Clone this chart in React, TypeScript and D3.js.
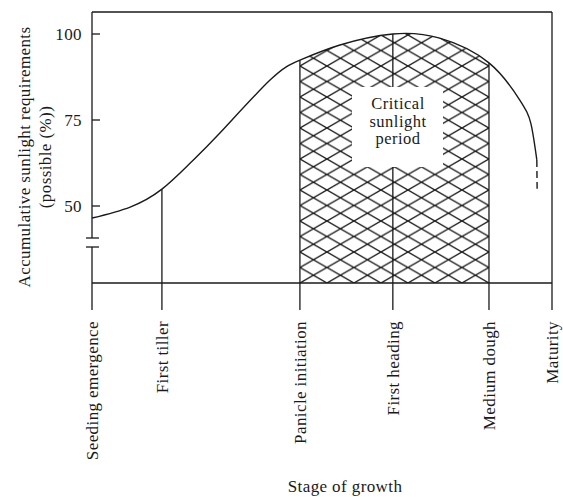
import React from 'react'
import * as d3 from 'd3'

// growth stages along the x axis (position in % of season)
const stages = ['Seeding emergence', 'First tiller', 'Panicle initiation', 'First heading', 'Medium dough', 'Maturity']
const stagePos = [0, 15.2, 45.2, 65.4, 86.3, 100]

// accumulative sunlight requirement curve
const curveX = [0, 8.3, 15.2, 21.3, 27.8, 38.7, 45.2, 53.9, 65.4, 75.6, 86.3, 93, 95.4, 96.7]
const curveY = [46.5, 49.7, 54.9, 62.4, 71.2, 86.6, 92.4, 96.8, 100, 98.8, 91.6, 80.8, 74, 63.4]
const tailY = [63.4, 55]

const yTicks = [50, 75, 100]

const W = 563
const H = 497
const left = 92
const right = 552
const top = 12
const baseY = 283
const tickBottom = 310
const font = '"Liberation Serif", "DejaVu Serif", serif'
const ink = '#1a1a1a'

export default function App() {
  const x = d3.scaleLinear().domain([0, 100]).range([left, right])
  const y = d3.scaleLinear().domain([50, 100]).range([206, 34])

  const pts: [number, number][] = curveX.map((d, i) => [d, curveY[i]])
  const curve = d3.curveNatural
  const line = d3
    .line<[number, number]>()
    .x((d) => x(d[0]))
    .y((d) => y(d[1]))
    .curve(curve)
  const area = d3
    .area<[number, number]>()
    .x((d) => x(d[0]))
    .y0(baseY)
    .y1((d) => y(d[1]))
    .curve(curve)

  // curve value at a stage, for where the stage verticals start
  const valueAt = (v: number) => {
    const i = curveX.indexOf(v)
    return i >= 0 ? curveY[i] : 100
  }

  const xPan = x(stagePos[2])
  const xDough = x(stagePos[4])
  const hole = { x0: 352, x1: 443, y0: 87, y1: 167 }
  const lab = { fontFamily: font, fill: ink, letterSpacing: 0.4 }

  return (
    <svg width={W} height={H} style={{ position: 'absolute', left: 0, top: 0, background: '#fff' }}>
      <defs>
        <pattern id="hatch" patternUnits="userSpaceOnUse" width={27} height={15.5} x={xPan} y={baseY}>
          <path d="M0,0L27,15.5M0,15.5L27,0" stroke={ink} strokeWidth={1.4} fill="none" />
        </pattern>
        <clipPath id="crit">
          <rect x={xPan} y={0} width={xDough - xPan} height={baseY} />
        </clipPath>
      </defs>

      {/* hatched critical period */}
      <path d={area(pts) ?? ''} fill="url(#hatch)" clipPath="url(#crit)" />
      <rect x={hole.x0} y={hole.y0} width={hole.x1 - hole.x0} height={hole.y1 - hole.y0} fill="#fff" />

      {/* frame */}
      <g stroke={ink} strokeWidth={1.3} fill="none">
        <line x1={left} x2={right} y1={top} y2={top} />
        <line x1={right} x2={right} y1={top} y2={tickBottom} />
        <line x1={left} x2={left} y1={top} y2={238} />
        <line x1={left} x2={left} y1={247} y2={tickBottom} />
        <line x1={86} x2={99} y1={238} y2={238} />
        <line x1={86} x2={99} y1={247} y2={247} />
        <line x1={left} x2={right} y1={baseY} y2={baseY} />
      </g>

      {/* y ticks */}
      {yTicks.map((t) => (
        <g key={t}>
          <line x1={left} x2={left + 8} y1={y(t)} y2={y(t)} stroke={ink} strokeWidth={1.3} />
          <text x={82} y={y(t)} dy="0.35em" textAnchor="end" fontSize={17} {...lab}>
            {t}
          </text>
        </g>
      ))}

      {/* stage verticals and labels */}
      {stages.map((s, i) => {
        const px = x(stagePos[i])
        const y1 = y(valueAt(stagePos[i]))
        return (
          <g key={s}>
            {i === 3 ? (
              <>
                <line x1={px} x2={px} y1={y1} y2={hole.y0} stroke={ink} strokeWidth={1.3} />
                <line x1={px} x2={px} y1={hole.y1} y2={tickBottom} stroke={ink} strokeWidth={1.3} />
              </>
            ) : (
              i !== 0 && i !== 5 && <line x1={px} x2={px} y1={y1} y2={tickBottom} stroke={ink} strokeWidth={1.3} />
            )}
            <text transform={`translate(${px + 6},${321}) rotate(-90)`} textAnchor="end" fontSize={17} {...lab}>
              {s}
            </text>
          </g>
        )
      })}

      {/* curve */}
      <path d={line(pts) ?? ''} fill="none" stroke={ink} strokeWidth={1.4} />
      <line
        x1={x(curveX[curveX.length - 1])}
        x2={x(curveX[curveX.length - 1]) + 0.3}
        y1={y(tailY[0])}
        y2={y(tailY[1])}
        stroke={ink}
        strokeWidth={1.4}
        strokeDasharray="7,4"
      />

      {/* critical period label */}
      {['Critical', 'sunlight', 'period'].map((t, i) => (
        <text key={t} x={398} y={109 + i * 17.5} textAnchor="middle" fontSize={16.5} {...lab} letterSpacing={0.5}>
          {t}
        </text>
      ))}

      {/* axis titles */}
      <text transform="translate(30,157) rotate(-90)" textAnchor="middle" fontSize={17} {...lab}>
        Accumulative sunlight requirements
      </text>
      <text transform="translate(51,157) rotate(-90)" textAnchor="middle" fontSize={17} {...lab}>
        (possible (%))
      </text>
      <text x={345} y={492} textAnchor="middle" fontSize={17} {...lab}>
        Stage of growth
      </text>
    </svg>
  )
}
